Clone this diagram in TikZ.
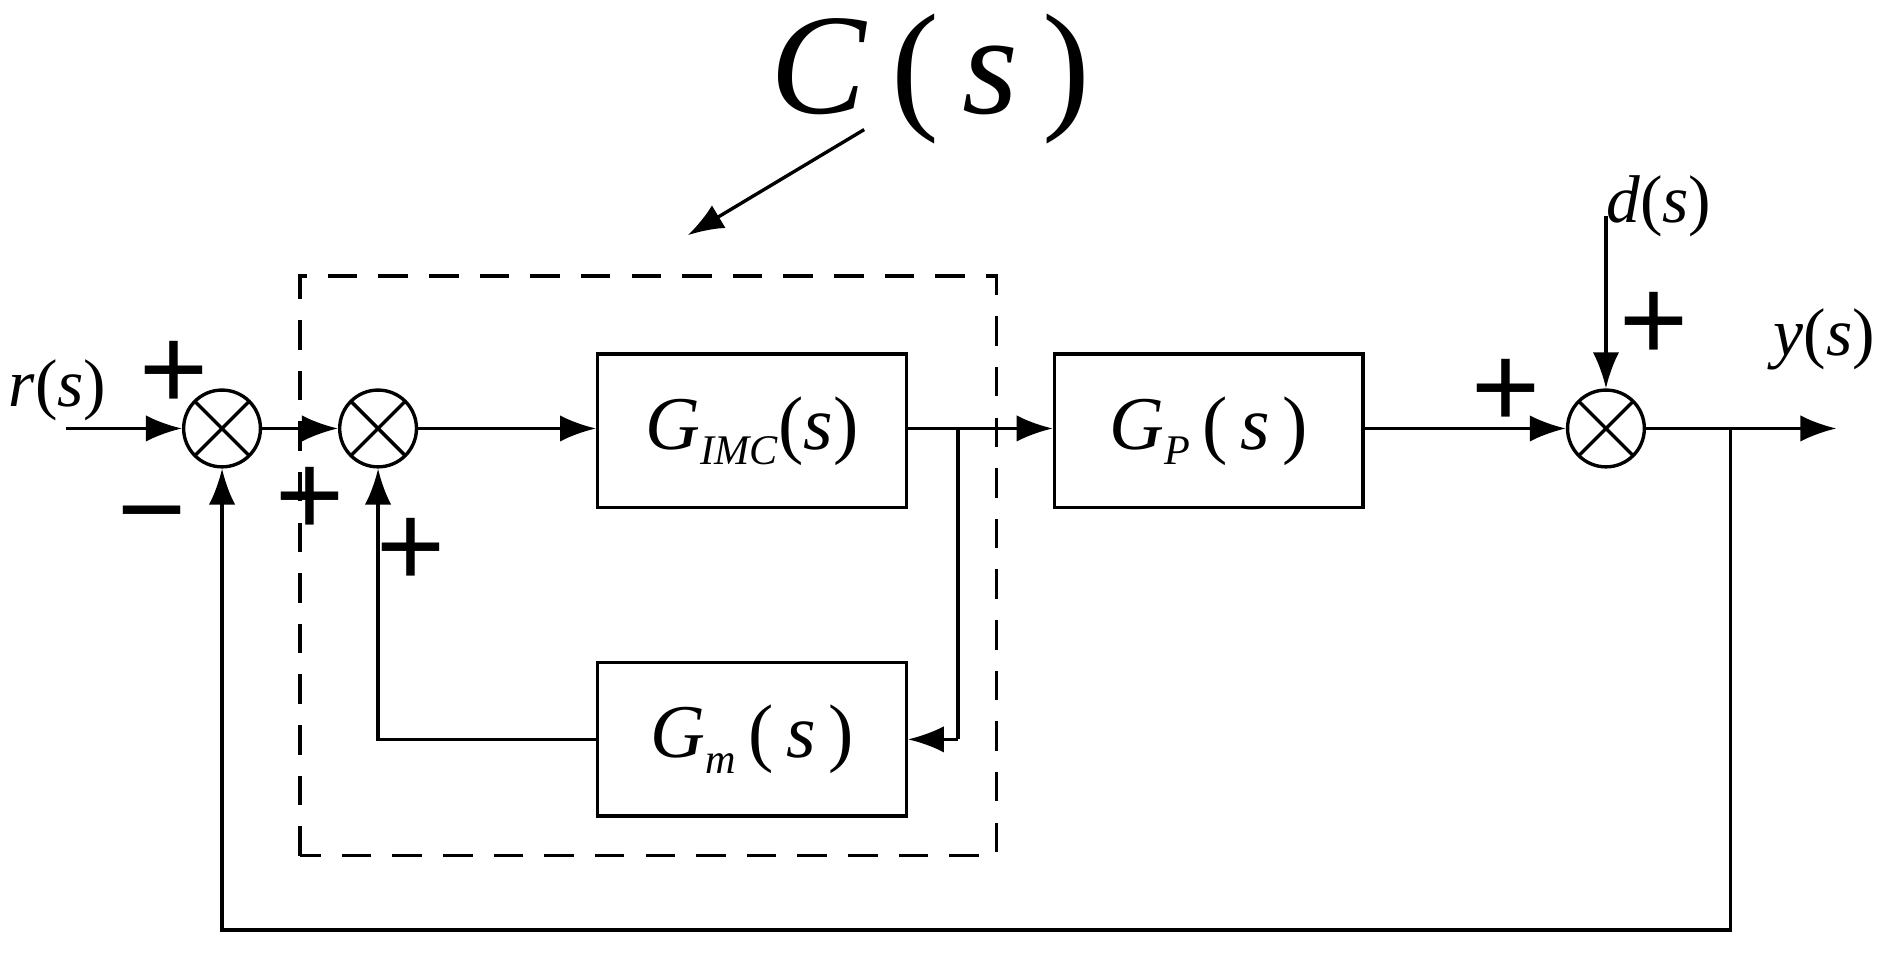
\documentclass[tikz,border=0pt]{standalone}
\usepackage{fontspec}
\setmainfont{Liberation Serif}
\newfontfamily\plusfont{Liberation Sans}
\usetikzlibrary{arrows, arrows.meta}
\usetikzlibrary{calc}
\newcommand{\vr}[1]{\textit{#1}}
\newcommand{\sub}[1]{\raisebox{-0.45ex}{\fontsize{10}{10}\selectfont\textit{#1}}}
\tikzset{
  sum/.style={circle, draw, line width=0.8pt, minimum size=0.64cm, inner sep=0pt,
    path picture={\draw[line width=0.8pt] (path picture bounding box.north west) -- (path picture bounding box.south east)
      (path picture bounding box.north east) -- (path picture bounding box.south west);}},
  blk/.style={draw, line width=0.8pt, minimum width=2.57cm, minimum height=1.28cm, font=\fontsize{18}{18}\selectfont},
  sig/.style={line width=0.8pt, -{Latex[length=3mm,width=2.2mm]}},
  sgn/.style={font=\plusfont\fontsize{28}{28}\selectfont},
  lbl/.style={font=\fontsize{16}{16}\selectfont}
}
\begin{document}
\begin{tikzpicture}
      \useasboundingbox (0,0) rectangle (15.68,8.01);
      \node[sum] (s1) at (1.85,4.44) {};
      \node[sum] (s2) at (3.15,4.44) {};
      \node[sum] (s3) at (13.38,4.44) {};
      \node[blk] (imc) at (6.265,4.42) {\vr{G}\sub{IMC}(\vr{s})};
      \node[blk] (gm) at (6.265,1.85) {\vr{G}\sub{m}\,(\,\vr{s}\,)};
      \node[blk] (gp) at (10.07,4.42) {\vr{G}\sub{P}\,(\,\vr{s}\,)};

      \coordinate (in) at (0.55,4.44);
      \coordinate (br) at (7.98,4.44);
      \coordinate (fb) at (14.42,4.44);
      \coordinate (out) at (15.3,4.44);
      \coordinate (din) at (13.38,6.21);

      \draw[sig] (in) -- (s1);
      \draw[sig] (s1) -- (s2);
      \draw[sig] (s2) -- (imc.west |- s2);
      \draw[sig] (imc.east |- br) -- (gp.west |- br);
      \draw[line width=0.8pt] (br) |- (7.98,1.85);
      \draw[sig] (7.98,1.85) -- (gm.east);
      \draw[sig] (gm.west) -| (s2.south);
      \draw[sig] (gp.east |- s3) -- (s3);
      \draw[sig] (s3) -- (out);
      \draw[sig] (din) -- (s3.north);
      \draw[sig] (fb) |- (1.85,0.26) -- (s1.south);

      \draw[line width=0.8pt, dashed, dash pattern=on 7pt off 5pt] (2.50,0.88) rectangle (8.30,5.71);
      \node[font=\fontsize{34}{34}\selectfont] (cs) at (7.75,7.35) {\vr{C}\,(\,\vr{s}\,)};
      \coordinate (ca) at (7.20,6.93);
      \draw[sig] (ca) -- (5.73,6.05);

      \node[lbl] (rl) at (0.48,4.76) {\vr{r}(\vr{s})};
      \node[lbl] (yl) at (15.20,5.18) {\vr{y}(\vr{s})};
      \node[lbl] (dl) at (13.82,6.29) {\vr{d}(\vr{s})};

      \node[sgn] (p1) at (1.45,4.88) {+};
      \node[sgn] (m1) at (1.27,3.61) {\char"2212};
      \node[sgn] (p2) at (2.58,3.83) {+};
      \node[sgn] (p3) at (3.42,3.41) {+};
      \node[sgn] (p4) at (12.55,4.73) {+};
      \node[sgn] (p5) at (13.78,5.29) {+};
    \end{tikzpicture}
\end{document}
